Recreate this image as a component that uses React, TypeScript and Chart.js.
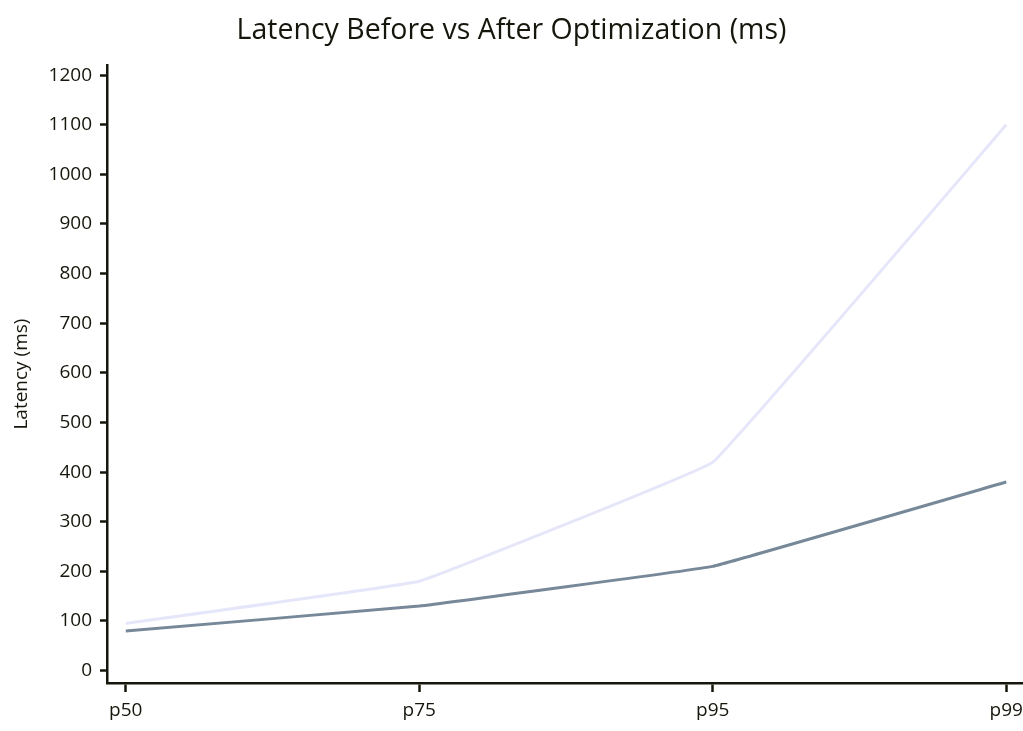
import React, { useEffect, useRef } from "react";
import { Chart, registerables } from "chart.js";

Chart.register(...registerables);

const categories = ["p50", "p75", "p95", "p99"];
const beforeValues = [95, 180, 420, 1100];
const afterValues = [80, 130, 210, 380];
const yTickValues = [0, 100, 200, 300, 400, 500, 600, 700, 800, 900, 1000, 1100, 1200];

const INK = "#16160c";
const FONT = "'Open Sans', 'Noto Sans', sans-serif";

export default function App() {
  const ref = useRef<HTMLCanvasElement | null>(null);

  useEffect(() => {
    document.body.style.margin = "0";
    const canvas = ref.current;
    if (!canvas) return;
    const chart = new Chart(canvas, {
      type: "line",
      data: {
        datasets: [
          {
            label: "Before",
            data: categories.map((_, i) => ({ x: i, y: beforeValues[i] })),
            borderColor: "#e6e6fa",
            backgroundColor: "#e6e6fa",
            borderWidth: 3,
            pointRadius: 0,
            tension: 0.05,
            fill: false,
          },
          {
            label: "After",
            data: categories.map((_, i) => ({ x: i, y: afterValues[i] })),
            borderColor: "#778899",
            backgroundColor: "#778899",
            borderWidth: 3,
            pointRadius: 0,
            tension: 0.05,
            fill: false,
          },
        ],
      },
      options: {
        responsive: false,
        animation: false,
        layout: { padding: 0 },
        plugins: {
          legend: { display: false },
          tooltip: { enabled: false },
          title: {
            display: true,
            text: "Latency Before vs After Optimization (ms)",
            color: INK,
            font: { family: FONT, size: 28.5, weight: "normal", lineHeight: 1.2 },
            padding: { top: 14, bottom: 17 },
          },
        },
        scales: {
          x: {
            type: "linear",
            min: -0.064,
            max: 3.057,
            afterBuildTicks: (scale: any) => {
              scale.ticks = categories.map((_, i) => ({ value: i }));
            },
            afterFit: (scale: any) => {
              scale.height = 48;
              scale.paddingLeft = 0;
              scale.paddingRight = 0;
            },
            ticks: {
              color: INK,
              font: { family: FONT, size: 19 },
              padding: 7,
              maxRotation: 0,
              autoSkip: false,
              callback: (v: any) => categories[Number(v)] ?? "",
            },
            grid: {
              display: true,
              drawOnChartArea: false,
              drawTicks: true,
              tickLength: 9,
              tickColor: INK,
              tickWidth: 2.5,
            },
            border: { display: true, color: INK, width: 2.5 },
          },
          y: {
            type: "linear",
            min: -25,
            max: 1220,
            afterBuildTicks: (scale: any) => {
              scale.ticks = yTickValues.map((v) => ({ value: v }));
            },
            afterFit: (scale: any) => {
              scale.width = 107;
              scale.paddingTop = 0;
              scale.paddingBottom = 0;
            },
            ticks: {
              color: INK,
              font: { family: FONT, size: 19 },
              padding: 8,
              autoSkip: false,
              callback: (v: any) => String(v),
            },
            grid: {
              display: true,
              drawOnChartArea: false,
              drawTicks: true,
              tickLength: 7,
              tickColor: INK,
              tickWidth: 2.5,
            },
            border: { display: true, color: INK, width: 2.5 },
            title: {
              display: true,
              text: "Latency (ms)",
              color: INK,
              font: { family: FONT, size: 19 },
              padding: { top: 10, bottom: 0 },
            },
          },
        },
      },
    });
    return () => chart.destroy();
  }, []);

  return (
    <div style={{ width: 1023, height: 731 }}>
      <canvas ref={ref} width={1023} height={731} style={{ display: "block" }} />
    </div>
  );
}
